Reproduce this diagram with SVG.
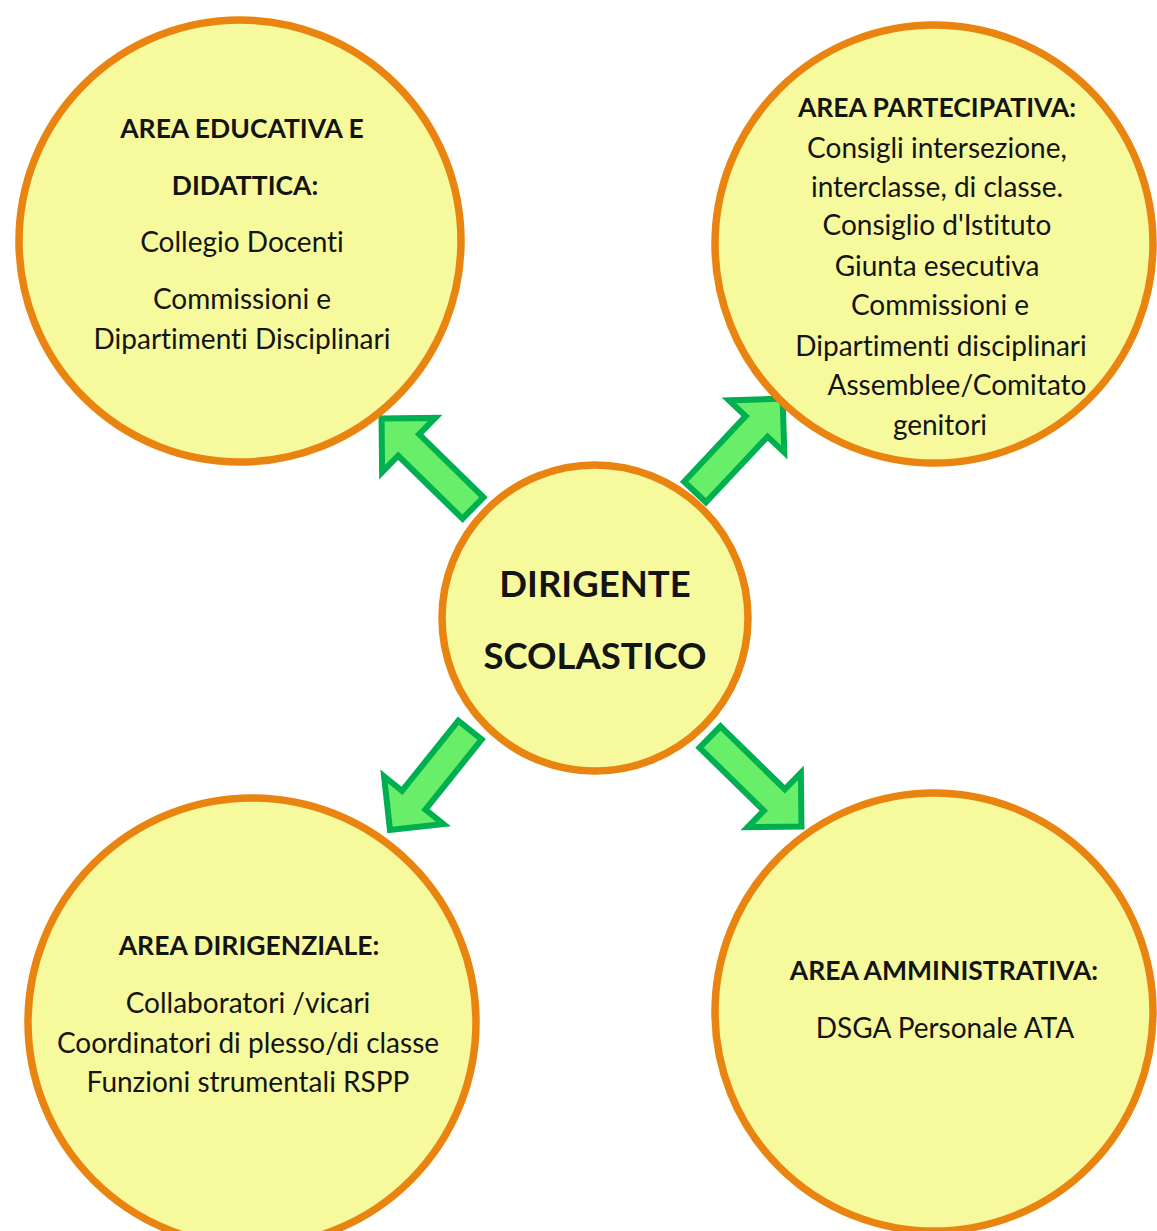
<svg xmlns="http://www.w3.org/2000/svg" width="1157" height="1231" viewBox="0 0 1157 1231">
  <style>
    .node circle { fill: #F7FA9C; stroke: #EA8410; stroke-width: 7.5; }
    .t { font-family: Lato, "Liberation Sans", sans-serif; font-size: 28px; fill: #141414; text-anchor: middle; font-variant-ligatures: none; }
    .b { font-weight: bold; font-size: 26.5px; }
    .c { font-weight: bold; font-size: 36.5px; }
    .arrow { fill: #68EE68; stroke: #00B050; stroke-width: 6; stroke-linejoin: miter; }
  </style>
  <defs>
    <path id="blockArrow" d="M0,-15 L90,-15 L90,-38 L128,0 L90,38 L90,15 L0,15 Z"/>
  </defs>
  <rect width="1157" height="1231" fill="#FFFFFF"/>

  <g id="connectors">
    <use href="#blockArrow" class="arrow" transform="translate(473,508) rotate(-135.6)"/>
    <use href="#blockArrow" class="arrow" transform="translate(695,492) rotate(-46.8)"/>
    <use href="#blockArrow" class="arrow" transform="translate(470,730) rotate(128.7)"/>
    <use href="#blockArrow" class="arrow" transform="translate(710,737) rotate(44.4)"/>
  </g>

  <g id="node-educativa" class="node">
    <circle cx="240" cy="241" r="221"/>
    <text class="t b" x="242" y="138">AREA EDUCATIVA E</text>
    <text class="t b" x="245" y="195">DIDATTICA:</text>
    <text class="t" x="242" y="252">Collegio Docenti</text>
    <text class="t" x="242" y="309">Commissioni e</text>
    <text class="t" x="242" y="349">Dipartimenti Disciplinari</text>
  </g>

  <g id="node-partecipativa" class="node">
    <circle cx="934" cy="244" r="219"/>
    <text class="t b" x="937" y="117">AREA PARTECIPATIVA:</text>
    <text class="t" x="937" y="158">Consigli intersezione,</text>
    <text class="t" x="937" y="197">interclasse, di classe.</text>
    <text class="t" x="937" y="235">Consiglio d'Istituto</text>
    <text class="t" x="937" y="276">Giunta esecutiva</text>
    <text class="t" x="940" y="315">Commissioni e</text>
    <text class="t" x="941" y="356">Dipartimenti disciplinari</text>
    <text class="t" x="957" y="395">Assemblee/Comitato</text>
    <text class="t" x="940" y="435">genitori</text>
  </g>

  <g id="node-dirigente" class="node">
    <circle cx="595" cy="618" r="153"/>
    <text class="t c" x="595" y="597">DIRIGENTE</text>
    <text class="t c" x="595" y="669">SCOLASTICO</text>
  </g>

  <g id="node-dirigenziale" class="node">
    <circle cx="252" cy="1022" r="224"/>
    <text class="t b" x="249" y="955">AREA DIRIGENZIALE:</text>
    <text class="t" x="248" y="1013">Collaboratori /vicari</text>
    <text class="t" x="248" y="1053">Coordinatori di plesso/di classe</text>
    <text class="t" x="248" y="1092">Funzioni strumentali RSPP</text>
  </g>

  <g id="node-amministrativa" class="node">
    <circle cx="934" cy="1012" r="219"/>
    <text class="t b" x="944" y="980">AREA AMMINISTRATIVA:</text>
    <text class="t" x="945" y="1038">DSGA Personale ATA</text>
  </g>
</svg>
